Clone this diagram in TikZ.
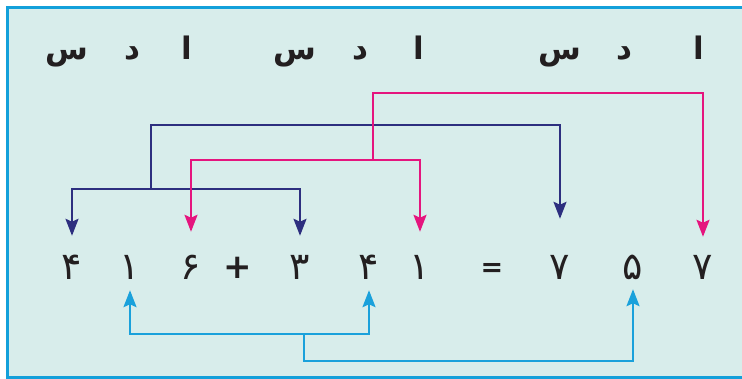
\documentclass[tikz,border=0pt]{standalone}
\usepackage{fontspec}
\usetikzlibrary{arrows.meta}
\newfontfamily\urdufont[Script=Arabic,Language=Urdu]{DejaVu Sans}
\newfontfamily\urduboldfont[Script=Arabic,Language=Urdu]{DejaVu Sans Bold}
\newfontfamily\symfont{DejaVu Sans Bold}
\TeXXeTstate=1
\definecolor{bgteal}{HTML}{D8EDEB}
\definecolor{frameblue}{HTML}{13A0DA}
\definecolor{navyc}{HTML}{2D2F7F}
\definecolor{magc}{HTML}{E5157E}
\definecolor{cyanc}{HTML}{1AA1DB}
\definecolor{inkc}{HTML}{231F20}
\tikzset{
  letter/.style={anchor=base, inner sep=0pt, text=inkc, font=\urduboldfont\fontsize{31}{31}\selectfont},
  digit/.style={anchor=base, inner sep=0pt, text height=20pt, text depth=0pt, text=inkc, font=\urdufont\fontsize{38}{38}\selectfont},
  plussign/.style={anchor=base, inner sep=0pt, text height=20pt, text depth=0pt, text=inkc, font=\symfont\fontsize{34}{34}\selectfont},
  eqsign/.style={anchor=base, inner sep=0pt, text height=20pt, text depth=0pt, text=inkc, font=\symfont\fontsize{27}{27}\selectfont},
  conn/.style={line width=2.3pt, line join=miter, -{Stealth[width=13pt,length=17pt,inset=3pt]}},
  nvline/.style={conn, draw=navyc},
  mgline/.style={conn, draw=magc},
  cyline/.style={conn, draw=cyanc},
}
\begin{document}
\begin{tikzpicture}[x=1pt,y=-1pt]
\useasboundingbox (0,0) rectangle (742,379);
\clip (0,0) rectangle (742,379);
\fill[white] (0,0) rectangle (742,379);
\draw[line width=3pt, draw=frameblue, fill=bgteal] (7.5,7.5) rectangle (760,377.5);

% place-value letters
\node[letter] (l1) at (67,60) {\beginR س\endR};
\node[letter] (l2) at (132,60) {\beginR د\endR};
\node[letter] (l3) at (187,60) {\beginR ا\endR};
\node[letter] (l4) at (295,60) {\beginR س\endR};
\node[letter] (l5) at (360,60) {\beginR د\endR};
\node[letter] (l6) at (419,60) {\beginR ا\endR};
\node[letter] (l7) at (560,60) {\beginR س\endR};
\node[letter] (l8) at (624,60) {\beginR د\endR};
\node[letter] (l9) at (699,60) {\beginR ا\endR};

% digits
\node[digit] (d1) at (72,280) {۴};
\node[digit] (d2) at (130,280) {۱};
\node[digit] (d3) at (191,280) {۶};
\node[plussign] (d4) at (238,279) {+};
\node[digit] (d5) at (300,280) {۳};
\node[digit] (d6) at (369,280) {۴};
\node[digit] (d7) at (420,280) {۱};
\node[eqsign] (d8) at (492,277) {=};
\node[digit] (d9) at (560,280) {۷};
\node[digit] (d10) at (633,280) {۵};
\node[digit] (d11) at (703,280) {۷};

% junctions
\coordinate (nvJ) at (151,189);
\coordinate (nvT) at (151,125);
\coordinate (mgJ) at (373,160);
\coordinate (mgT) at (373,93);
\coordinate (cyJ) at (304,334);
\coordinate (cyB) at (304,361);

% navy (hundreds)
\draw[nvline, shorten >=24pt] (nvJ) -| (d1.north);
\draw[nvline, shorten >=24pt] (nvJ) -| (d5.north);
\draw[nvline, shorten >=41pt] (nvJ) -- (nvT) -| (d9.north);

% magenta (units)
\draw[mgline, shorten >=28pt] (mgJ) -| (d3.north);
\draw[mgline, shorten >=28pt] (mgJ) -| (d7.north);
\draw[mgline, shorten >=23pt] (mgJ) -- (mgT) -| (d11.north);

% cyan (tens)
\draw[cyline, shorten >=10pt] (cyJ) -| (d2.south);
\draw[cyline, shorten >=10pt] (cyJ) -| (d6.south);
\draw[cyline, shorten >=9pt] (cyJ) -- (cyB) -| (d10.south);
\end{tikzpicture}
\end{document}
